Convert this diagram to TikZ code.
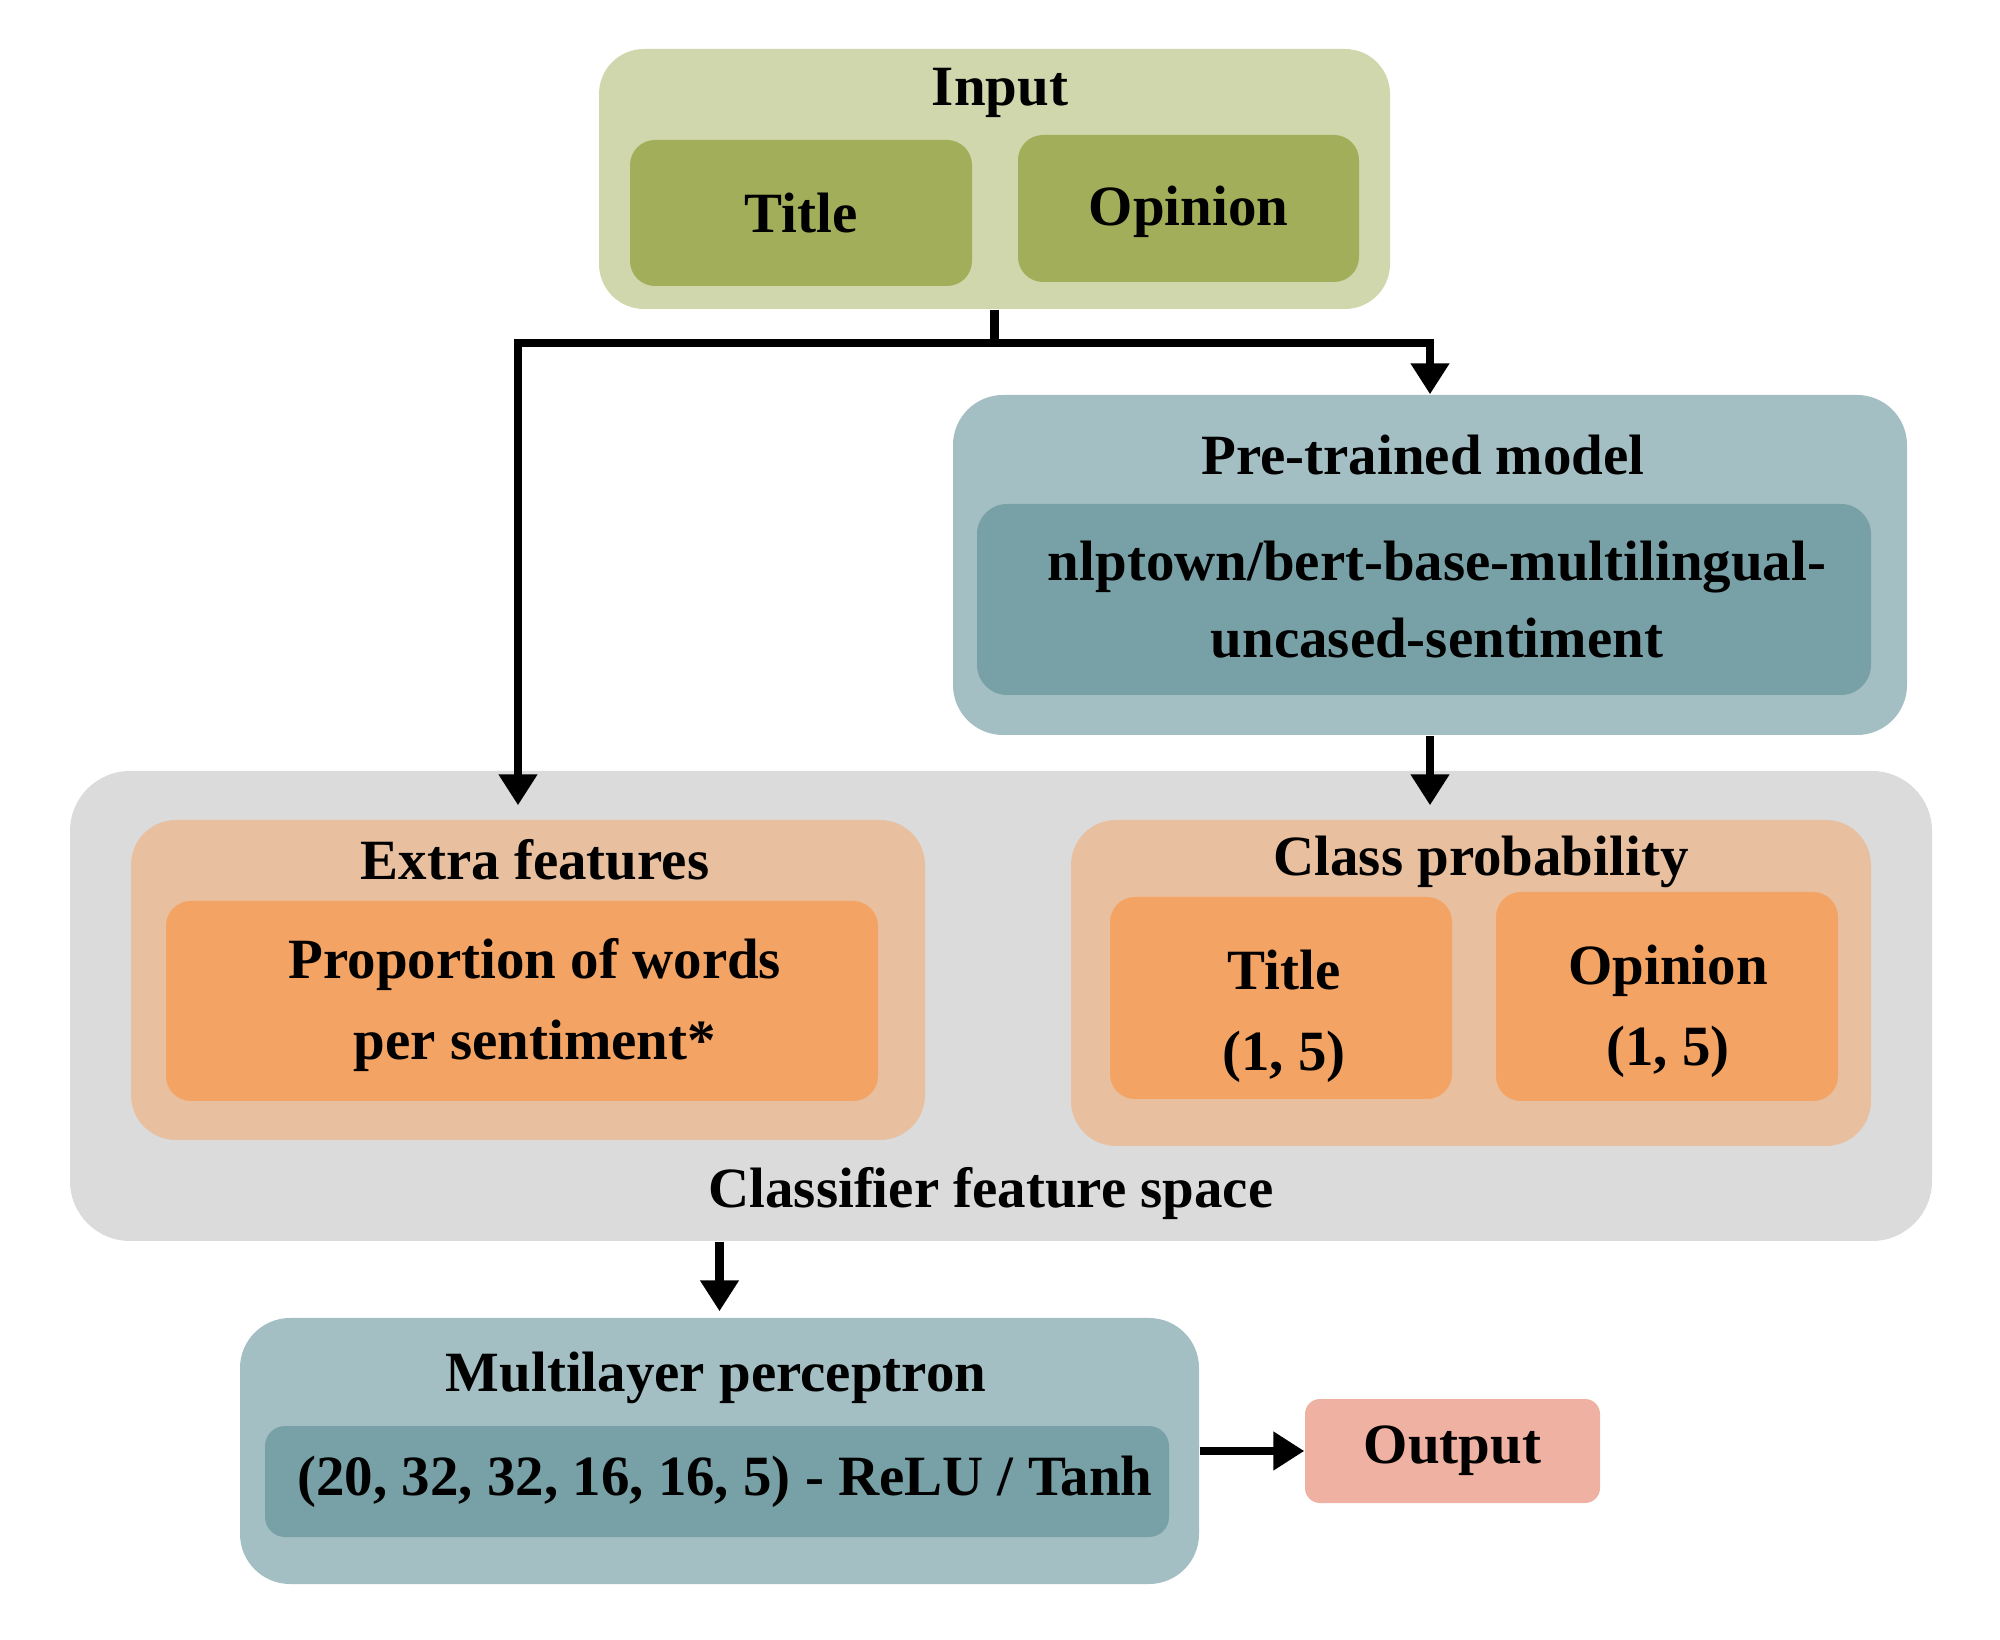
\documentclass[tikz,border=0pt]{standalone}
\usepackage{fontspec}
\setmainfont{Liberation Serif}
\usetikzlibrary{arrows.meta}

\definecolor{inlight}{HTML}{D0D7AD}
\definecolor{indark}{HTML}{A2AE59}
\definecolor{tealight}{HTML}{A3BFC3}
\definecolor{tealdark}{HTML}{77A1A6}
\definecolor{featgray}{HTML}{DBDBDB}
\definecolor{orlight}{HTML}{E8BF9F}
\definecolor{ordark}{HTML}{F3A363}
\definecolor{outc}{HTML}{EFB1A1}

\tikzset{
blk/.style={rectangle, rounded corners=2.5mm, inner sep=0pt, align=center},
txt/.style={inner sep=0pt, align=center},
lin/.style={line width=2.3pt},
arr/.style={line width=2.3pt, -{Triangle[width=3.7mm,length=3.1mm]}},
}

\begin{document}
\begin{tikzpicture}[font=\fontsize{16.2}{23}\selectfont\bfseries]
\useasboundingbox (0,0) rectangle (20,16.39);

% input
\node[blk, fill=inlight, rounded corners=4.5mm, minimum width=7.91cm, minimum height=2.60cm] (in) at (9.945,14.60) {};
\node[anchor=base] (intitle) at (10.00,15.33) {Input};
\node[blk, fill=indark, minimum width=3.42cm, minimum height=1.46cm] (intit) at (8.01,14.26) {Title};
\node[blk, fill=indark, minimum width=3.41cm, minimum height=1.47cm] (inop) at (11.885,14.305) {};
\node[txt] (inoptext) at (11.885,14.27) {Opinion};

% pre-trained model
\node[blk, fill=tealight, rounded corners=5mm, minimum width=9.54cm, minimum height=3.40cm] (pre) at (14.30,10.74) {};
\node[anchor=base] (pretitle) at (14.23,11.645) {Pre-trained model};
\node[blk, fill=tealdark, rounded corners=3mm, minimum width=8.94cm, minimum height=1.91cm] (prebox) at (14.24,10.395) {};
\node[txt, font=\fontsize{16.2}{22}\selectfont\bfseries] (pretext) at (14.37,10.395) {nlptown/bert-base-multilingual-\\uncased-sentiment};

% feature space
\node[blk, fill=featgray, rounded corners=6mm, minimum width=18.62cm, minimum height=4.70cm] (feat) at (10.01,6.33) {};
\node[anchor=base] (featlbl) at (9.91,4.31) {Classifier feature space};

\node[blk, fill=orlight, rounded corners=4.5mm, minimum width=7.94cm, minimum height=3.20cm] (fx) at (5.28,6.59) {};
\node[anchor=base] (fxtitle) at (5.35,7.59) {Extra features};
\node[blk, fill=ordark, minimum width=7.12cm, minimum height=2.00cm] (fxbox) at (5.22,6.38) {};
\node[txt] (fxtext) at (5.35,6.34) {Proportion of words\\per sentiment*};

\node[blk, fill=orlight, rounded corners=4.5mm, minimum width=8.00cm, minimum height=3.26cm] (cls) at (14.71,6.56) {};
\node[anchor=base] (clstitle) at (14.81,7.63) {Class probability};
\node[blk, fill=ordark, minimum width=3.42cm, minimum height=2.02cm] (clstit) at (12.81,6.41) {};
\node[txt] (clstittext) at (12.84,6.23) {Title\\(1, 5)};
\node[blk, fill=ordark, minimum width=3.42cm, minimum height=2.09cm] (clsop) at (16.67,6.425) {};
\node[txt] (clsoptext) at (16.68,6.275) {Opinion\\(1, 5)};

% classifier
\node[blk, fill=tealight, rounded corners=5mm, minimum width=9.59cm, minimum height=2.66cm] (mlp) at (7.195,1.88) {};
\node[anchor=base] (mlptitle) at (7.16,2.47) {Multilayer perceptron};
\node[blk, fill=tealdark, rounded corners=2mm, minimum width=9.04cm, minimum height=1.11cm] (mlpbox) at (7.17,1.575) {};
\node[txt] (mlptext) at (7.25,1.575) {(20, 32, 32, 16, 16, 5) - ReLU / Tanh};
\node[blk, fill=outc, rounded corners=1.5mm, minimum width=2.95cm, minimum height=1.04cm] (out) at (14.525,1.88) {Output};

% connectors
\coordinate (jn) at ([yshift=-3.3mm]in.south);
\draw[lin] (in.south) -- (jn);
\draw[arr] (jn) -| ([xshift=-1mm,yshift=1.4mm]fx.north);
\draw[arr] (jn) -| (pre.north);
\draw[arr] (pre.south) -- ([yshift=1.4mm]pre.south |- cls.north);
\draw[arr] (mlp.north |- feat.south) -- ([yshift=0.6mm]mlp.north);
\draw[arr] (mlp.east) -- (out.west);
\end{tikzpicture}
\end{document}
